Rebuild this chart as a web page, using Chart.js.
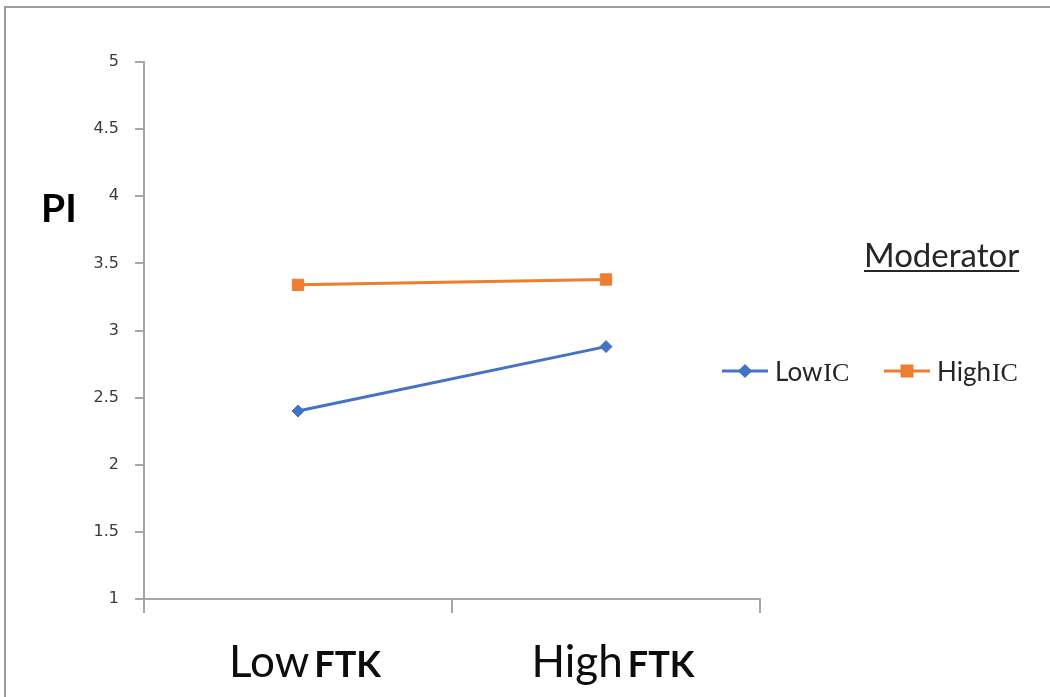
<!DOCTYPE html>
<html>
<head>
<meta charset="utf-8">
<script src="https://cdn.jsdelivr.net/npm/chart.js@4/dist/chart.umd.min.js"></script>
<style>
  html, body { margin: 0; padding: 0; background: #fff; }
  #wrap { width: 1050px; height: 697px; position: relative; }
</style>
</head>
<body>
<div id="wrap"><canvas id="c" width="1050" height="697"></canvas></div>
<script>
// Categories on the x axis (shown with the "FTK" suffix)
const categories = ['Low', 'High'];
const categorySuffix = 'FTK';

// Moderator groups (shown with the "IC" suffix)
const seriesNames = ['Low', 'High'];
const seriesSuffix = 'IC';

// Mean PI per category for each moderator group
const lowICValues = [2.40, 2.88];
const highICValues = [3.34, 3.38];

const yTitle = 'PI';
const legendTitle = 'Moderator';

const BLUE = '#4472C4';
const ORANGE = '#ED7D31';
const AXIS = '#A6A6A6';
const SANS = 'Lato, "Open Sans", sans-serif';
const SERIF = '"Liberation Serif", "DejaVu Serif", serif';

// Outer frame (left and top edges of the chart box)
const framePlugin = {
  id: 'frame',
  beforeDraw(chart) {
    const ctx = chart.ctx;
    ctx.save();
    ctx.strokeStyle = '#9C9C9C';
    ctx.lineWidth = 2;
    ctx.beginPath();
    ctx.moveTo(5, chart.height);
    ctx.lineTo(5, 7);
    ctx.lineTo(chart.width, 7);
    ctx.stroke();
    ctx.restore();
  }
};

// Mixed-font category labels, y title and the moderator legend
const textPlugin = {
  id: 'texts',
  afterDraw(chart) {
    const ctx = chart.ctx;
    const xs = chart.scales.x;
    ctx.save();
    ctx.textBaseline = 'alphabetic';
    ctx.textAlign = 'left';
    ctx.fillStyle = '#000';

    // category labels: regular word + bold suffix
    categories.forEach((cat, i) => {
      const cx = xs.getPixelForValue(i) + 7;
      ctx.font = '44px ' + SANS;
      const w1 = ctx.measureText(cat).width;
      ctx.font = 'bold 36px ' + SANS;
      const w2 = ctx.measureText(categorySuffix).width;
      const gap = 5;
      const start = cx - (w1 + gap + w2) / 2;
      const base = 677;
      ctx.fillStyle = '#0D0D0D';
      ctx.font = '44px ' + SANS;
      ctx.fillText(cat, start, base);
      ctx.font = 'bold 36px ' + SANS;
      ctx.fillText(categorySuffix, start + w1 + gap, base);
    });

    // y axis title
    ctx.fillStyle = '#000';
    ctx.font = 'bold 39px ' + SANS;
    ctx.fillText(yTitle, 41, 222);

    // legend title, underlined
    ctx.font = '33px ' + SANS;
    const tw = ctx.measureText(legendTitle).width;
    ctx.fillStyle = '#262626';
    ctx.fillText(legendTitle, 864, 267);
    ctx.fillRect(864, 270, tw, 2);

    // legend entries
    const entries = [
      { ds: chart.data.datasets[0], name: seriesNames[0], x: 722 },
      { ds: chart.data.datasets[1], name: seriesNames[1], x: 884 }
    ];
    const ly = 371;
    entries.forEach(e => {
      ctx.strokeStyle = e.ds.borderColor;
      ctx.lineWidth = 3;
      ctx.beginPath();
      ctx.moveTo(e.x, ly);
      ctx.lineTo(e.x + 46, ly);
      ctx.stroke();
      ctx.fillStyle = e.ds.pointBackgroundColor;
      ctx.strokeStyle = e.ds.pointBorderColor;
      Chart.helpers.drawPoint(ctx, {
        pointStyle: e.ds.pointStyle,
        radius: e.ds.pointRadius - 1,
        rotation: 0,
        borderWidth: 1
      }, e.x + 23, ly);
      ctx.fillStyle = '#262626';
      ctx.font = '26px ' + SANS;
      const nw = ctx.measureText(e.name).width;
      ctx.fillText(e.name, e.x + 53, ly + 10);
      ctx.fillStyle = '#222';
      ctx.font = '26px ' + SERIF;
      ctx.fillText(seriesSuffix, e.x + 53 + nw + 1, ly + 10);
    });
    ctx.restore();
  }
};

new Chart(document.getElementById('c'), {
  type: 'line',
  data: {
    labels: categories,
    datasets: [
      {
        label: seriesNames[0] + seriesSuffix,
        data: lowICValues,
        borderColor: BLUE,
        backgroundColor: BLUE,
        pointBackgroundColor: BLUE,
        pointBorderColor: BLUE,
        borderWidth: 3,
        pointStyle: 'rectRot',
        pointRadius: 6,
        pointBorderWidth: 1,
        tension: 0
      },
      {
        label: seriesNames[1] + seriesSuffix,
        data: highICValues,
        borderColor: ORANGE,
        backgroundColor: ORANGE,
        pointBackgroundColor: ORANGE,
        pointBorderColor: ORANGE,
        borderWidth: 3,
        pointStyle: 'rect',
        pointRadius: 8,
        pointBorderWidth: 1,
        tension: 0
      }
    ]
  },
  options: {
    responsive: false,
    animation: false,
    events: [],
    layout: { padding: { left: 0, top: 62, right: 290, bottom: 0 } },
    plugins: {
      legend: { display: false },
      tooltip: { enabled: false },
      title: { display: false }
    },
    scales: {
      x: {
        type: 'category',
        offset: true,
        grid: {
          offset: true,
          drawOnChartArea: false,
          drawTicks: true,
          tickLength: 14,
          color: AXIS,
          lineWidth: 2
        },
        border: { display: true, color: AXIS, width: 2 },
        ticks: { display: false },
        afterFit(scale) { scale.height = 98; }
      },
      y: {
        min: 1,
        max: 5,
        grid: {
          drawOnChartArea: false,
          drawTicks: true,
          tickLength: 9,
          color: AXIS,
          lineWidth: 2
        },
        border: { display: true, color: AXIS, width: 2 },
        ticks: {
          stepSize: 0.5,
          padding: 16,
          color: '#3A3A3A',
          font: { family: '"DejaVu Sans", Verdana, sans-serif', size: 16 },
          callback: (v) => String(Math.round(v * 10) / 10)
        },
        afterFit(scale) { scale.width = 144; }
      }
    }
  },
  plugins: [framePlugin, textPlugin]
});
</script>
</body>
</html>
